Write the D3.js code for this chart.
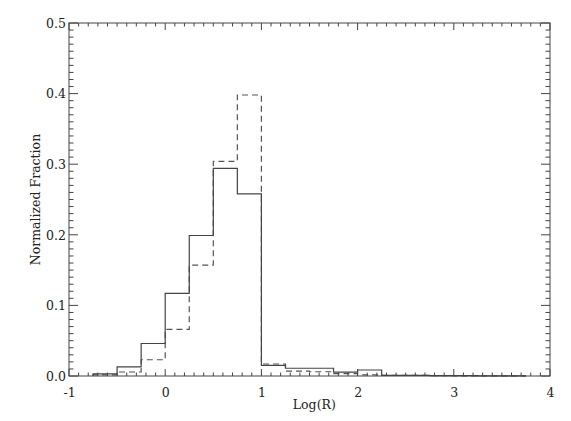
<!DOCTYPE html>
<html><head><meta charset="utf-8">
<script src="https://cdn.jsdelivr.net/npm/d3@7"></script>
<style>body{margin:0;background:#fff}svg{display:block}</style>
</head><body><svg id="c" width="571" height="421"></svg>
<script>
const binEdges = [-0.75,-0.5,-0.25,0,0.25,0.5,0.75,1.0,1.25,1.5,1.75,2.0,2.25,2.5,2.75,3.0,3.25,3.5,3.75];
const solidValues = [0.003,0.013,0.046,0.117,0.199,0.294,0.258,0.015,0.011,0.011,0.0055,0.0085,0.001,0.001,0.0006,0.0006,0.0002,0.0002];
const dashedValues = [0.0015,0.0057,0.023,0.066,0.157,0.304,0.398,0.017,0.007,0.006,0.0035,0.0015,0.001,0.0008,0.0006,0.0003,0.0002,0.0003];
const xTicks = [-1,0,1,2,3,4];
const yTicks = [0,0.1,0.2,0.3,0.4,0.5];
const xTitle = "Log(R)", yTitle = "Normalized Fraction";

const FONT="DejaVu Serif";
const L=69,R=550,T=23,B=376;
const svg=d3.select("#c");
const x=d3.scaleLinear().domain([-1,4]).range([L,R]);
const y=d3.scaleLinear().domain([0,0.5]).range([B,T]);
const col="#444";

function stepPath(vals){
  const p=d3.path();
  p.moveTo(x(binEdges[0]),y(0));
  vals.forEach((v,i)=>{p.lineTo(x(binEdges[i]),y(v));p.lineTo(x(binEdges[i+1]),y(v));});
  return p.toString();
}
svg.append("path").attr("d",stepPath(dashedValues)).attr("fill","none").attr("stroke","#555").attr("stroke-width",1.2).attr("stroke-dasharray","6,4");
svg.append("path").attr("d",stepPath(solidValues)).attr("fill","none").attr("stroke",col).attr("stroke-width",1.2);

svg.append("rect").attr("x",L).attr("y",T).attr("width",R-L).attr("height",B-T).attr("fill","none").attr("stroke",col).attr("stroke-width",1);

const xMinor=d3.range(-10,41).map(d=>d/10);
const yMinor=d3.range(0,51).map(d=>d/100);
const g=svg.append("g").attr("stroke",col).attr("stroke-width",1);
xMinor.forEach(v=>{
  const major=Math.abs(v-Math.round(v))<1e-9; const len=major?7:3.5;
  g.append("line").attr("x1",x(v)).attr("x2",x(v)).attr("y1",B).attr("y2",B-len);
  g.append("line").attr("x1",x(v)).attr("x2",x(v)).attr("y1",T).attr("y2",T+len);
});
yMinor.forEach(v=>{
  const major=Math.abs(v*10-Math.round(v*10))<1e-9; const len=major?9:4.5;
  g.append("line").attr("y1",y(v)).attr("y2",y(v)).attr("x1",L).attr("x2",L+len);
  g.append("line").attr("y1",y(v)).attr("y2",y(v)).attr("x1",R).attr("x2",R-len);
});

const xa=d3.axisBottom(x).tickValues(xTicks).tickSize(0).tickFormat(d=>String(d));
svg.append("g").attr("transform",`translate(0,${B})`).call(xa).attr("font-family",FONT).attr("font-size",12.5)
  .call(s=>{s.select(".domain").remove();s.selectAll("text").attr("dy","0").attr("y",21).attr("fill","#222");});
const ya=d3.axisLeft(y).tickValues(yTicks).tickSize(0).tickFormat(d=>d.toFixed(1));
svg.append("g").attr("transform",`translate(${L},0)`).call(ya).attr("font-family",FONT).attr("font-size",12.5)
  .call(s=>{s.select(".domain").remove();s.selectAll("text").attr("x",-3).attr("dy","0.35em").attr("fill","#222");});

svg.append("text").attr("x",x(1.55)).attr("y",409).attr("text-anchor","middle").attr("font-family",FONT).attr("font-size",12.5).attr("fill","#222").text(xTitle);
svg.append("text").attr("transform",`translate(40,${(T+B)/2}) rotate(-90)`).attr("text-anchor","middle").attr("font-family",FONT).attr("font-size",12.5).attr("fill","#222").text(yTitle);
</script></body></html>
